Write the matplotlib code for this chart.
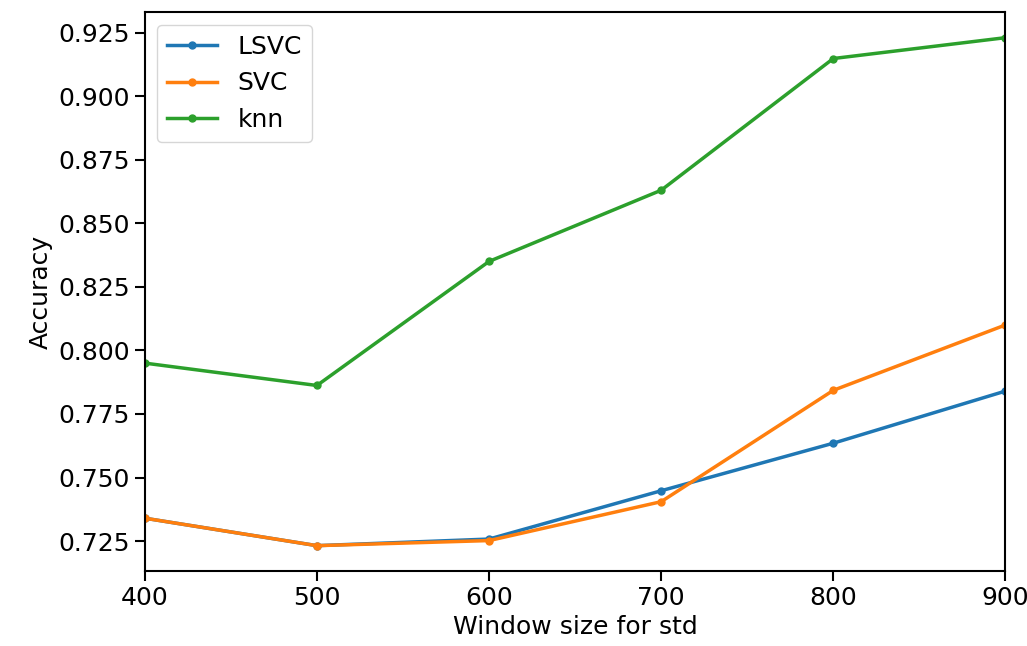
import matplotlib
matplotlib.use("Agg")
import matplotlib.pyplot as plt

# Window sizes and accuracies
window = [400, 500, 600, 700, 800, 900]
lsvc = [0.7340, 0.7232, 0.7258, 0.7448, 0.7635, 0.7840]
svc = [0.7340, 0.7232, 0.7252, 0.7405, 0.7843, 0.8100]
knn = [0.7950, 0.7862, 0.8350, 0.8630, 0.9148, 0.9230]

plt.rcParams['font.size'] = 18
fig, ax = plt.subplots(figsize=(10.27, 6.46), dpi=100)
ax.plot(window, lsvc, marker='.', markersize=10, linewidth=2.5, label='LSVC')
ax.plot(window, svc, marker='.', markersize=10, linewidth=2.5, label='SVC')
ax.plot(window, knn, marker='.', markersize=10, linewidth=2.5, label='knn')
ax.set_xlim(400, 900)
ax.set_xlabel('Window size for std', labelpad=4)
ax.set_ylabel('Accuracy')
for s in ax.spines.values():
    s.set_linewidth(1.5)
ax.tick_params(width=1.5, length=7)
ax.legend(loc='upper left')
fig.subplots_adjust(left=0.141, right=0.979, top=0.981, bottom=0.116)
fig.savefig('out.png')
